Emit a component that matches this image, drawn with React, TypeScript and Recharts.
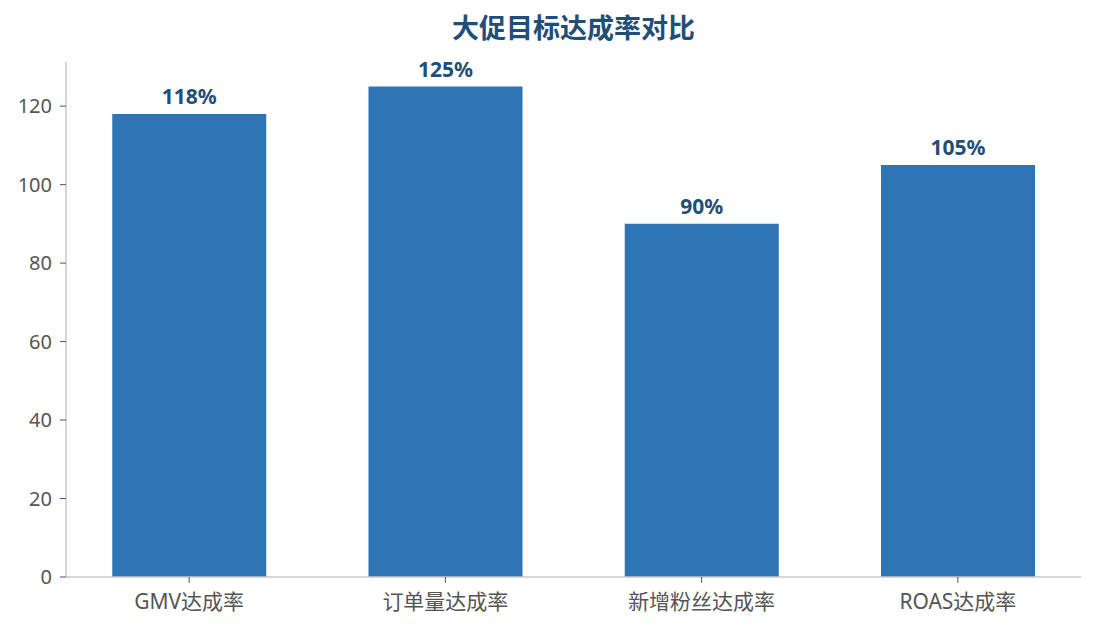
import { BarChart, Bar, XAxis, YAxis, LabelList } from 'recharts';

const categories = ['GMV达成率', '订单量达成率', '新增粉丝达成率', 'ROAS达成率'];
const rates = [118, 125, 90, 105];
const yTicks = [0, 20, 40, 60, 80, 100, 120];

const data = categories.map((name, i) => ({ name, rate: rates[i] }));

const font = '"Noto Sans", "Noto Sans CJK SC", sans-serif';

export default function App() {
  return (
    <div style={{ position: 'absolute', left: 0, top: 0, width: 1095, height: 630, background: '#fff', fontFamily: font }}>
      <div
        style={{
          position: 'absolute',
          left: 66,
          width: 1015,
          top: 9,
          textAlign: 'center',
          fontSize: 27,
          lineHeight: '38px',
          fontWeight: 700,
          color: '#1f4e79',
        }}
      >
        大促目标达成率对比
      </div>
      <BarChart
        width={1095}
        height={630}
        data={data}
        margin={{ top: 62, right: 14, left: 0, bottom: 13 }}
        barCategoryGap="20%"
      >
        <XAxis
          dataKey="name"
          height={40}
          padding={{ left: -5, right: -5 }}
          tickLine={{ stroke: '#555' }}
          axisLine={{ stroke: '#c8c8c8', strokeWidth: 1.5 }}
          tick={{ fill: '#555', fontSize: 21, fontFamily: font }}
          tickSize={6}
          tickMargin={11}
        />
        <YAxis
          width={66}
          domain={[0, 131.25]}
          ticks={yTicks}
          tickLine={{ stroke: '#555' }}
          axisLine={{ stroke: '#c8c8c8', strokeWidth: 1.5 }}
          tick={{ fill: '#555', fontSize: 20, fontFamily: font }}
          tickSize={6}
          tickMargin={8}
        />
        <Bar dataKey="rate" fill="#2e75b6" isAnimationActive={false}>
          <LabelList
            dataKey="rate"
            position="top"
            offset={10}
            formatter={(v: number) => `${v}%`}
            style={{ fill: '#1f4e79', fontSize: 21, fontWeight: 700, fontFamily: font }}
          />
        </Bar>
      </BarChart>
    </div>
  );
}
